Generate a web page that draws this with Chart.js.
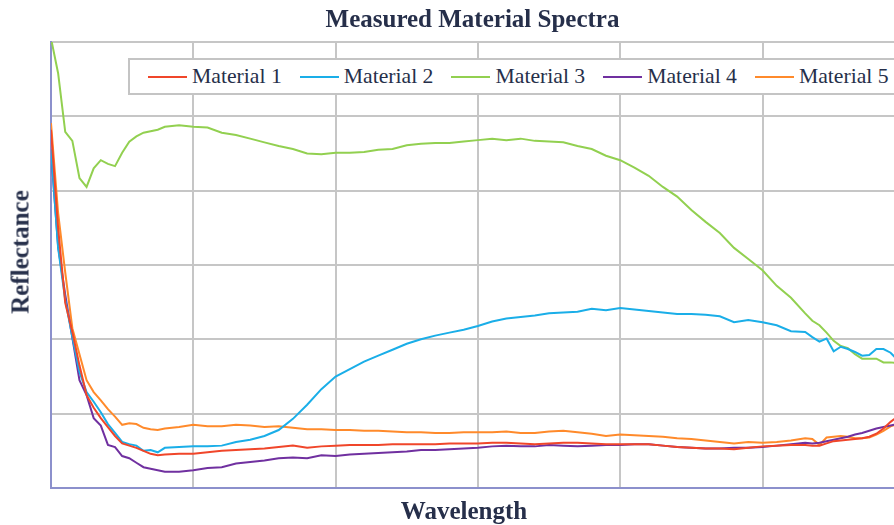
<!DOCTYPE html>
<html>
<head>
<meta charset="utf-8">
<title>Measured Material Spectra</title>
<script src="https://cdn.jsdelivr.net/npm/chart.js@4.4.1/dist/chart.umd.min.js"></script>
<style>
  html, body { margin: 0; padding: 0; overflow: hidden; background: #fff; }
  #wrap { position: relative; width: 894px; height: 525px; overflow: hidden; }
  .serif { font-family: "Liberation Serif", "Times New Roman", serif; color: #262f4a; }
  #legend {
    position: absolute; left: 128px; top: 58px; height: 37px; width: max-content;
    box-sizing: border-box; border: 2px solid #c4c4c4; background: #fff;
    display: flex; align-items: center; padding-left: 18px; white-space: nowrap;
    font-size: 21.7px;
  }
  .item { display: flex; align-items: center; margin-right: 18px; flex-shrink: 0; }
  .swatch { width: 39px; height: 2px; margin-right: 5px; }
  .axis-title {
    position: absolute; font-size: 25px; font-weight: bold; line-height: 25px;
    height: 25px; white-space: nowrap;
  }
  #xTitle { left: 464px; top: 498px; transform: translateX(-50%); }
  #yTitle { left: 19.5px; top: 251.5px; transform: translate(-50%, -50%) rotate(-90deg); }
</style>
</head>
<body>
<div id="wrap">
  <canvas id="spectraChart" width="894" height="525"></canvas>
  <div id="legend" class="serif"></div>
  <div id="yTitle" class="axis-title serif"></div>
  <div id="xTitle" class="axis-title serif"></div>
</div>
<script>
// wavelengths (nm)
const wavelengths = [
  400, 405, 410, 415, 420, 425, 430, 435, 440, 445, 450, 455, 460, 465, 470, 475, 480,
  490, 500, 510, 520, 530, 540, 550, 560, 570, 580,
  590, 600, 610, 620, 630, 640, 650, 660, 670, 680,
  690, 700, 710, 720, 730, 740, 750, 760, 770, 780,
  790, 800, 810, 820, 830, 840, 850, 860, 870, 880,
  890, 900, 910, 920,
  930, 935, 940, 945, 950, 955, 960, 965, 970, 975, 980, 985, 990, 995
];

// vertical grid positions (nm), no labels shown
const xGridTicks = [400, 500, 600, 700, 800, 900];

const material1 = [
  0.482, 0.350, 0.249, 0.210, 0.165, 0.125, 0.108, 0.094, 0.082, 0.070, 0.060, 0.057, 0.054, 0.050, 0.046, 0.044, 0.045,
  0.046, 0.046, 0.048, 0.050, 0.051, 0.052, 0.053, 0.055, 0.057, 0.054,
  0.056, 0.057, 0.058, 0.058, 0.058, 0.059, 0.059, 0.059, 0.059, 0.060,
  0.060, 0.060, 0.061, 0.061, 0.060, 0.059, 0.060, 0.061, 0.061, 0.060,
  0.059, 0.059, 0.059, 0.059, 0.057, 0.055, 0.054, 0.053, 0.053, 0.052,
  0.054, 0.056, 0.057, 0.058,
  0.058, 0.057, 0.057, 0.060, 0.063, 0.064, 0.065, 0.066, 0.067, 0.069, 0.073, 0.080, 0.089, 0.096
];

const material2 = [
  0.455, 0.323, 0.253, 0.203, 0.156, 0.129, 0.116, 0.102, 0.086, 0.074, 0.062, 0.059, 0.057, 0.050, 0.051, 0.048, 0.054,
  0.055, 0.056, 0.056, 0.057, 0.062, 0.065, 0.070, 0.078, 0.093, 0.112,
  0.133, 0.150, 0.160, 0.170, 0.178, 0.186, 0.194, 0.200, 0.205, 0.209,
  0.213, 0.218, 0.224, 0.228, 0.230, 0.232, 0.235, 0.236, 0.237, 0.241,
  0.239, 0.242, 0.240, 0.238, 0.236, 0.234, 0.234, 0.233, 0.231, 0.223,
  0.226, 0.223, 0.219, 0.211,
  0.210, 0.203, 0.197, 0.201, 0.184, 0.190, 0.187, 0.183, 0.178, 0.179, 0.187, 0.187, 0.182, 0.172
];

const material3 = [
  0.605, 0.558, 0.479, 0.467, 0.417, 0.405, 0.430, 0.441, 0.436, 0.433, 0.451, 0.466, 0.473, 0.478, 0.480, 0.482, 0.486,
  0.488, 0.486, 0.485, 0.478, 0.475, 0.470, 0.465, 0.460, 0.456, 0.450,
  0.449, 0.451, 0.451, 0.452, 0.455, 0.456, 0.461, 0.463, 0.464, 0.464,
  0.466, 0.468, 0.470, 0.468, 0.470, 0.467, 0.466, 0.465, 0.460, 0.456,
  0.447, 0.441, 0.431, 0.420, 0.405, 0.392, 0.374, 0.358, 0.343, 0.323,
  0.308, 0.293, 0.272, 0.256,
  0.235, 0.225, 0.219, 0.209, 0.198, 0.191, 0.188, 0.180, 0.174, 0.174, 0.174, 0.169, 0.169, 0.168
];

const material4 = [
  0.455, 0.325, 0.260, 0.202, 0.145, 0.125, 0.094, 0.084, 0.058, 0.055, 0.043, 0.040, 0.034, 0.028, 0.026, 0.024, 0.022,
  0.022, 0.024, 0.027, 0.028, 0.033, 0.035, 0.037, 0.040, 0.041, 0.040,
  0.044, 0.043, 0.045, 0.046, 0.047, 0.048, 0.049, 0.051, 0.051, 0.052,
  0.053, 0.054, 0.056, 0.057, 0.056, 0.056, 0.058, 0.057, 0.056, 0.057,
  0.058, 0.058, 0.059, 0.059, 0.057, 0.055, 0.054, 0.053, 0.053, 0.054,
  0.054, 0.055, 0.057, 0.059,
  0.061, 0.060, 0.061, 0.063, 0.065, 0.067, 0.069, 0.072, 0.074, 0.077, 0.080, 0.082, 0.084, 0.086
];

const material5 = [
  0.491, 0.370, 0.290, 0.215, 0.180, 0.145, 0.129, 0.118, 0.106, 0.096, 0.085, 0.087, 0.086, 0.081, 0.079, 0.078, 0.080,
  0.082, 0.085, 0.083, 0.083, 0.085, 0.084, 0.082, 0.083, 0.081, 0.079,
  0.079, 0.078, 0.078, 0.077, 0.077, 0.076, 0.075, 0.075, 0.074, 0.074,
  0.075, 0.075, 0.075, 0.076, 0.074, 0.074, 0.076, 0.077, 0.075, 0.073,
  0.070, 0.072, 0.071, 0.070, 0.069, 0.067, 0.066, 0.064, 0.062, 0.060,
  0.062, 0.061, 0.062, 0.064,
  0.067, 0.066, 0.058, 0.068, 0.069, 0.070, 0.069, 0.067, 0.067, 0.068, 0.072, 0.077, 0.083, 0.086
];

const seriesNames = ['Material 1', 'Material 2', 'Material 3', 'Material 4', 'Material 5'];
const chartTitle = 'Measured Material Spectra';
const xTitle = 'Wavelength';
const yTitle = 'Reflectance';

const textColor = '#262f4a';
const serif = "'Liberation Serif', 'Times New Roman', serif";

function toPoints(values) {
  return wavelengths.map((w, i) => ({ x: w, y: values[i] }));
}

const ctx = document.getElementById('spectraChart').getContext('2d');
const spectraChart = new Chart(ctx, {
  type: 'line',
  data: {
    datasets: [
      { label: seriesNames[0], data: toPoints(material1), borderColor: '#f0462a' },
      { label: seriesNames[1], data: toPoints(material2), borderColor: '#1aaee8' },
      { label: seriesNames[2], data: toPoints(material3), borderColor: '#92d050' },
      { label: seriesNames[3], data: toPoints(material4), borderColor: '#7030a0' },
      { label: seriesNames[4], data: toPoints(material5), borderColor: '#ff8a2b' }
    ]
  },
  options: {
    responsive: false,
    animation: false,
    layout: { padding: { left: 51, right: 0, top: 0, bottom: 37 } },
    elements: {
      point: { radius: 0 },
      line: { borderWidth: 2, tension: 0 }
    },
    plugins: {
      legend: { display: false },
      tooltip: { enabled: false },
      title: {
        display: true,
        text: chartTitle,
        fullSize: false,
        color: textColor,
        font: { family: serif, size: 25, weight: 'bold', lineHeight: 1.2 },
        padding: { top: 6, bottom: 6 }
      }
    },
    scales: {
      x: {
        type: 'linear',
        bounds: 'data',
        min: 400,
        max: 992.4,
        afterBuildTicks: scale => {
          scale.ticks = xGridTicks.map(v => ({ value: v }));
        },
        grid: { color: '#c6c6c6', lineWidth: 2, drawTicks: false },
        border: { color: '#8c90cc', width: 2 },
        ticks: { display: false }
      },
      y: {
        min: 0,
        max: 0.6,
        grid: { color: '#c6c6c6', lineWidth: 2, drawTicks: false },
        border: { color: '#8c90cc', width: 2 },
        ticks: { display: false, stepSize: 0.1 }
      }
    }
  }
});

// axis titles
document.getElementById('xTitle').textContent = xTitle;
document.getElementById('yTitle').textContent = yTitle;

// legend box drawn as html, built from the chart's datasets
const legendEl = document.getElementById('legend');
spectraChart.data.datasets.forEach(ds => {
  const item = document.createElement('div');
  item.className = 'item';
  const swatch = document.createElement('span');
  swatch.className = 'swatch';
  swatch.style.backgroundColor = ds.borderColor;
  const label = document.createElement('span');
  label.textContent = ds.label;
  item.appendChild(swatch);
  item.appendChild(label);
  legendEl.appendChild(item);
});
</script>
</body>
</html>
